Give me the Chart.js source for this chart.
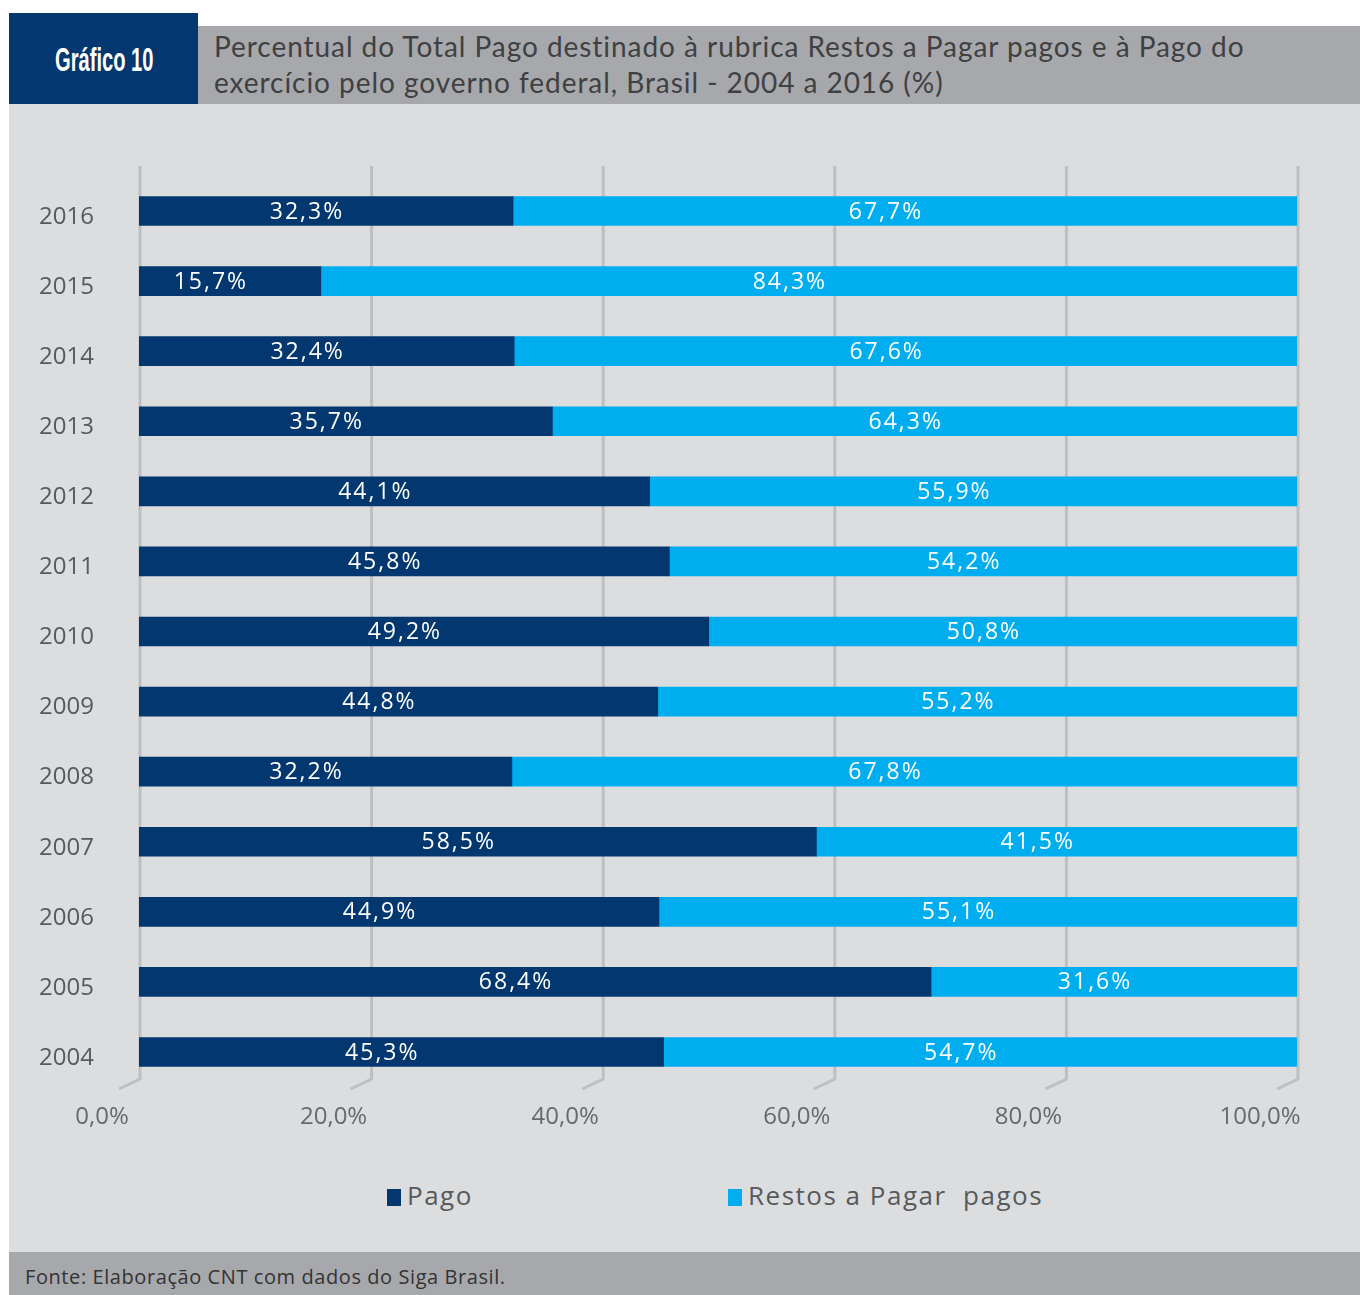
<!DOCTYPE html>
<html lang="pt-BR">
<head>
  <meta charset="UTF-8" />
  <title>Gráfico 10 | Restos a Pagar</title>
  <script src="https://cdn.jsdelivr.net/npm/chart.js"></script>
  <style>
    body { margin: 0; width: 1360px; height: 1295px; background: #fff; position: relative; overflow: hidden; font-family: "Open Sans", sans-serif; }
    .caixa { position: absolute; }
    #marca { left: 9px; top: 13px; width: 189px; height: 91px; background: #02376f; }
    #marca span { position: absolute; left: 46px; top: 28px; color: #fff; font: bold 33px "Liberation Sans Narrow", sans-serif; transform: scaleX(0.61); transform-origin: left top; white-space: nowrap; }
    #faixa { left: 198px; top: 26px; width: 1162px; height: 78px; background: #a7a8ab; }
    #titulo { position: absolute; left: 16px; top: 2px; color: #3f4042; font: 28px Lato, sans-serif; letter-spacing: 0.95px; line-height: 36px; white-space: nowrap; }
    #painel { left: 9px; top: 104px; width: 1351px; height: 1148px; background: #dcdddf; }
    #rodape { left: 9px; top: 1252px; width: 1351px; height: 43px; background: #a7a8ab; }
    #rodape span { position: absolute; left: 16px; top: 11px; font: 20px "Open Sans", sans-serif; letter-spacing: 0.58px; color: #333; }
    .leg { position: absolute; top: 1177px; font: 26px "Open Sans", sans-serif; letter-spacing: 1.5px; color: #58595b; white-space: nowrap; }
    .leg i { display: inline-block; width: 14px; height: 17px; margin-right: 6px; vertical-align: -1px; }
    canvas { position: absolute; left: 0; top: 0; }
  </style>
</head>
<body>
  <div class="caixa" id="painel"></div>
  <div class="caixa" id="marca"><span>Gráfico 10</span></div>
  <div class="caixa" id="faixa">
    <div id="titulo">Percentual do Total Pago destinado à rubrica Restos a Pagar pagos e à Pago do<br>exercício pelo governo federal, Brasil - 2004 a 2016 (%)</div>
  </div>
  <div class="caixa" id="rodape"><span>Fonte: Elaboração CNT com dados do Siga Brasil.</span></div>
  <div class="leg" style="left:387px"><i style="background:#02376f"></i>Pago</div>
  <div class="leg" style="left:728px"><i style="background:#00aeef"></i>Restos a Pagar&nbsp; pagos</div>

  <canvas id="graficoRestos" width="1360" height="1295"></canvas>

  <script>
    // dados
    const anos = ['2016', '2015', '2014', '2013', '2012', '2011', '2010', '2009', '2008', '2007', '2006', '2005', '2004'];
    const pago = [32.3, 15.7, 32.4, 35.7, 44.1, 45.8, 49.2, 44.8, 32.2, 58.5, 44.9, 68.4, 45.3];
    const restosPagos = [67.7, 84.3, 67.6, 64.3, 55.9, 54.2, 50.8, 55.2, 67.8, 41.5, 55.1, 31.6, 54.7];
    const marcasX = [0, 20, 40, 60, 80, 100];

    const fmt = v => v.toFixed(1).replace('.', ',') + '%';

    // linhas de grade com o "piso" inclinado
    const grade = {
      id: 'grade',
      beforeDatasetsDraw(chart) {
        const { ctx, chartArea, scales } = chart;
        ctx.save();
        ctx.strokeStyle = '#bebfc1';
        ctx.lineWidth = 3;
        marcasX.forEach(v => {
          const x = scales.x.getPixelForValue(v) + 1;
          ctx.beginPath();
          ctx.moveTo(x, chartArea.top - 10);
          ctx.lineTo(x, chartArea.bottom - 8);
          ctx.lineTo(x - 21, chartArea.bottom + 2);
          ctx.stroke();
        });
        ctx.restore();
      }
    };

    // rótulos dentro das barras
    const rotulos = {
      id: 'rotulos',
      afterDatasetsDraw(chart) {
        const { ctx } = chart;
        ctx.save();
        ctx.font = '500 23px "Open Sans"';
        ctx.letterSpacing = '2px';
        ctx.fillStyle = '#fff';
        ctx.textAlign = 'center';
        ctx.textBaseline = 'middle';
        chart.data.datasets.forEach((ds, i) => {
          chart.getDatasetMeta(i).data.forEach((bar, j) => {
            const p = bar.getProps(['x', 'y', 'base'], true);
            ctx.fillText(fmt(ds.data[j]), (p.x + p.base) / 2 - 19, p.y + 1);
          });
        });
        ctx.restore();
      }
    };

    new Chart(document.getElementById('graficoRestos'), {
      type: 'bar',
      data: {
        labels: anos,
        datasets: [
          { label: 'Pago', data: pago, backgroundColor: '#02376f', barThickness: 29 },
          { label: 'Restos a Pagar pagos', data: restosPagos, backgroundColor: '#00aeef', barThickness: 29 }
        ]
      },
      options: {
        indexAxis: 'y',
        responsive: false,
        animation: false,
        layout: { padding: { top: 176, right: 63, bottom: 158, left: 0 } },
        plugins: { legend: { display: false }, tooltip: { enabled: false } },
        scales: {
          x: {
            stacked: true,
            min: 0,
            max: 100,
            afterFit: s => { s.height = 50; },
            afterBuildTicks: s => { s.ticks = marcasX.map(v => ({ value: v })); },
            grid: { display: false, drawTicks: false },
            border: { display: false },
            ticks: {
              callback: v => fmt(v),
              labelOffset: -37,
              padding: 16,
              color: '#68696b',
              font: { family: 'Open Sans', size: 24 }
            }
          },
          y: {
            stacked: true,
            afterFit: s => { s.width = 139; },
            grid: { display: false, drawTicks: false },
            border: { display: false },
            ticks: {
              padding: 45,
              labelOffset: 6,
              color: '#58595b',
              font: { family: 'Open Sans', size: 24 }
            }
          }
        }
      },
      plugins: [grade, rotulos]
    });
  </script>
</body>
</html>
